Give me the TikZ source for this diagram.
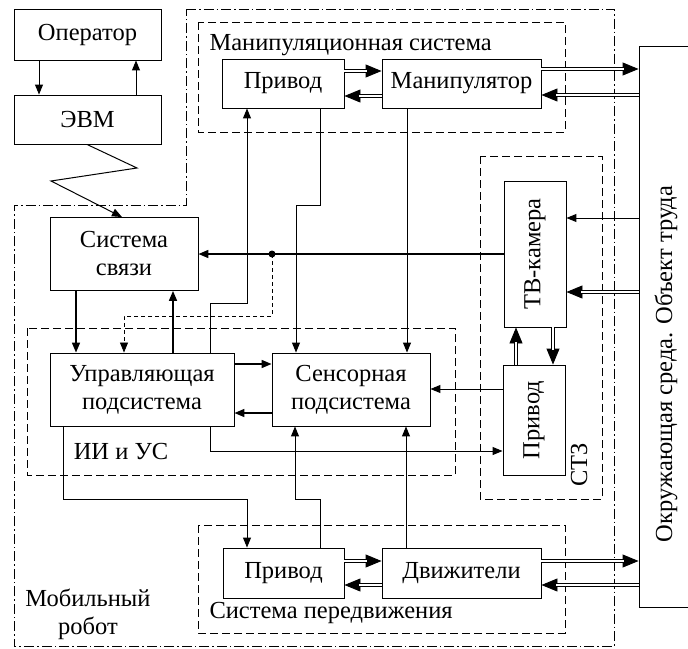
\documentclass[tikz,border=0pt]{standalone}
\usepackage{fontspec}
\setmainfont{Liberation Serif}
\usepackage{graphicx}
\usetikzlibrary{arrows.meta}

\begin{document}
\begin{tikzpicture}[x=1pt,y=-1pt,font=\fontsize{24.5}{28}\selectfont,
  box/.style={draw,line width=0.9pt,inner sep=1pt,align=center},
  arr/.style={line width=1pt,-{Triangle[length=10pt,width=8pt]}},
  thk/.style={line width=1.6pt,-{Triangle[length=10pt,width=8pt]}},
  dbl/.style={line width=0.9pt,-{Triangle[length=16pt,width=13pt]},
    postaction={draw,-,double,double distance=1.7pt,shorten >=15pt}},
  grp/.style={line width=0.8pt,dash pattern=on 8pt off 4pt},
  mob/.style={line width=0.8pt,dash pattern=on 10pt off 3pt on 1.5pt off 3pt}]
\useasboundingbox (0,0) rectangle (688,648);

\draw[mob] (186,9) -- (614,9) -- (614,646) -- (14,646) -- (14,205) -- (186,205) -- cycle;
\draw[grp] (198,22) rectangle (565,132);
\draw[grp] (27,328) rectangle (455,475);
\draw[grp] (480,156) rectangle (602,499);
\draw[grp] (198,525) rectangle (565,633);

\node[box,minimum width=147pt,minimum height=51pt] (oper) at (87.5,34.5) {Оператор};
\node[box,minimum width=147pt,minimum height=49pt] (evm) at (87.5,119.5) {ЭВМ};
\node[box,minimum width=148pt,minimum height=73pt] (sv) at (124,254) {Система\\связи};
\node[box,minimum width=184pt,minimum height=73pt] (upr) at (142,389.5) {Управляющая\\подсистема};
\node[box,minimum width=158pt,minimum height=73pt] (sens) at (351,389.5) {Сенсорная\\подсистема};
\node[box,minimum width=122pt,minimum height=49pt] (privm) at (283,83.5) {Привод};
\node[box,minimum width=159pt,minimum height=49pt] (manip) at (461.5,83.5) {Манипулятор};
\node[box,minimum width=62pt,minimum height=146pt] (tv) at (535,254) {\rotatebox{90}{ТВ-камера}};
\node[box,minimum width=62pt,minimum height=110pt] (privs) at (534,420) {\rotatebox{90}{Привод}};
\node[box,minimum width=121pt,minimum height=50pt] (privd) at (283.5,573) {Привод};
\node[box,minimum width=159pt,minimum height=50pt] (dvig) at (461.5,573) {Движители};
\node[box,minimum width=58pt,minimum height=561pt] (env) at (668,326.5) {};
\node[rotate=90] (lenv) at (666,364) {Окружающая среда. Объект труда};

\node[anchor=west] (lman) at (206,45) {Манипуляционная система};
\node (lii) at (121,452) {ИИ и УС};
\node[rotate=90] (lstz) at (579,465) {СТЗ};
\node[anchor=west] (lper) at (206,613) {Система передвижения};
\node[align=center] (lmob) at (88,614) {Мобильный\\робот};

\draw[arr] (39,0 |- oper.south) -- (39,0 |- evm.north);
\draw[arr] (136,0 |- evm.north) -- (136,0 |- oper.south);
\draw[line width=1pt,-{Triangle[length=10pt,width=8pt]}] (87,0 |- evm.south) -- (137,168) -- (51,181) -- (122,0 |- sv.north);

\draw[thk] (tv.west) -- (sv.east);
\fill (272,254) circle (3.5pt) coordinate (tap);
\draw[arr,line width=0.8pt,dash pattern=on 4pt off 3pt] (tap) -- (272,316) -- (124,316) -- (124,0 |- upr.north);
\draw[thk] (76,0 |- sv.south) -- (76,0 |- upr.north);
\draw[thk] (173,0 |- upr.north) -- (173,0 |- sv.south);
\draw[thk] (upr.east |- 0,364) -- (sens.west |- 0,364);
\draw[thk] (sens.west |- 0,413) -- (upr.east |- 0,413);

\draw[arr] (210,0 |- upr.north) -- (210,303) -- (247,303) -- (247,0 |- privm.south);
\draw[arr] (320,0 |- privm.south) -- (320,205) -- (296,205) -- (296,0 |- sens.north);
\draw[arr] (407,0 |- manip.south) -- (407,0 |- sens.north);
\draw[dbl] (privm.east |- 0,71) -- (manip.west |- 0,71);
\draw[dbl] (manip.west |- 0,96) -- (privm.east |- 0,96);
\draw[dbl] (manip.east |- 0,69) -- (env.west |- 0,69);
\draw[dbl] (env.west |- 0,95) -- (manip.east |- 0,95);

\draw[arr] (env.west |- 0,218) -- (tv.east |- 0,218);
\draw[dbl] (env.west |- 0,292) -- (tv.east |- 0,292);
\draw[dbl] (516,0 |- privs.north) -- (516,0 |- tv.south);
\draw[dbl] (553,0 |- tv.south) -- (553,0 |- privs.north);
\draw[arr] (privs.west |- 0,389) -- (sens.east |- 0,389);
\draw[arr] (210,0 |- upr.south) -- (210,451) -- (privs.west |- 0,451);

\draw[arr] (63,0 |- upr.south) -- (63,499) -- (247,499) -- (247,0 |- privd.north);
\draw[arr] (320,0 |- privd.north) -- (320,499) -- (295,499) -- (295,0 |- sens.south);
\draw[arr] (406,0 |- dvig.north) -- (406,0 |- sens.south);
\draw[dbl] (privd.east |- 0,561) -- (dvig.west |- 0,561);
\draw[dbl] (dvig.west |- 0,585) -- (privd.east |- 0,585);
\draw[dbl] (dvig.east |- 0,561) -- (env.west |- 0,561);
\draw[dbl] (env.west |- 0,585) -- (dvig.east |- 0,585);
\end{tikzpicture}
\end{document}
